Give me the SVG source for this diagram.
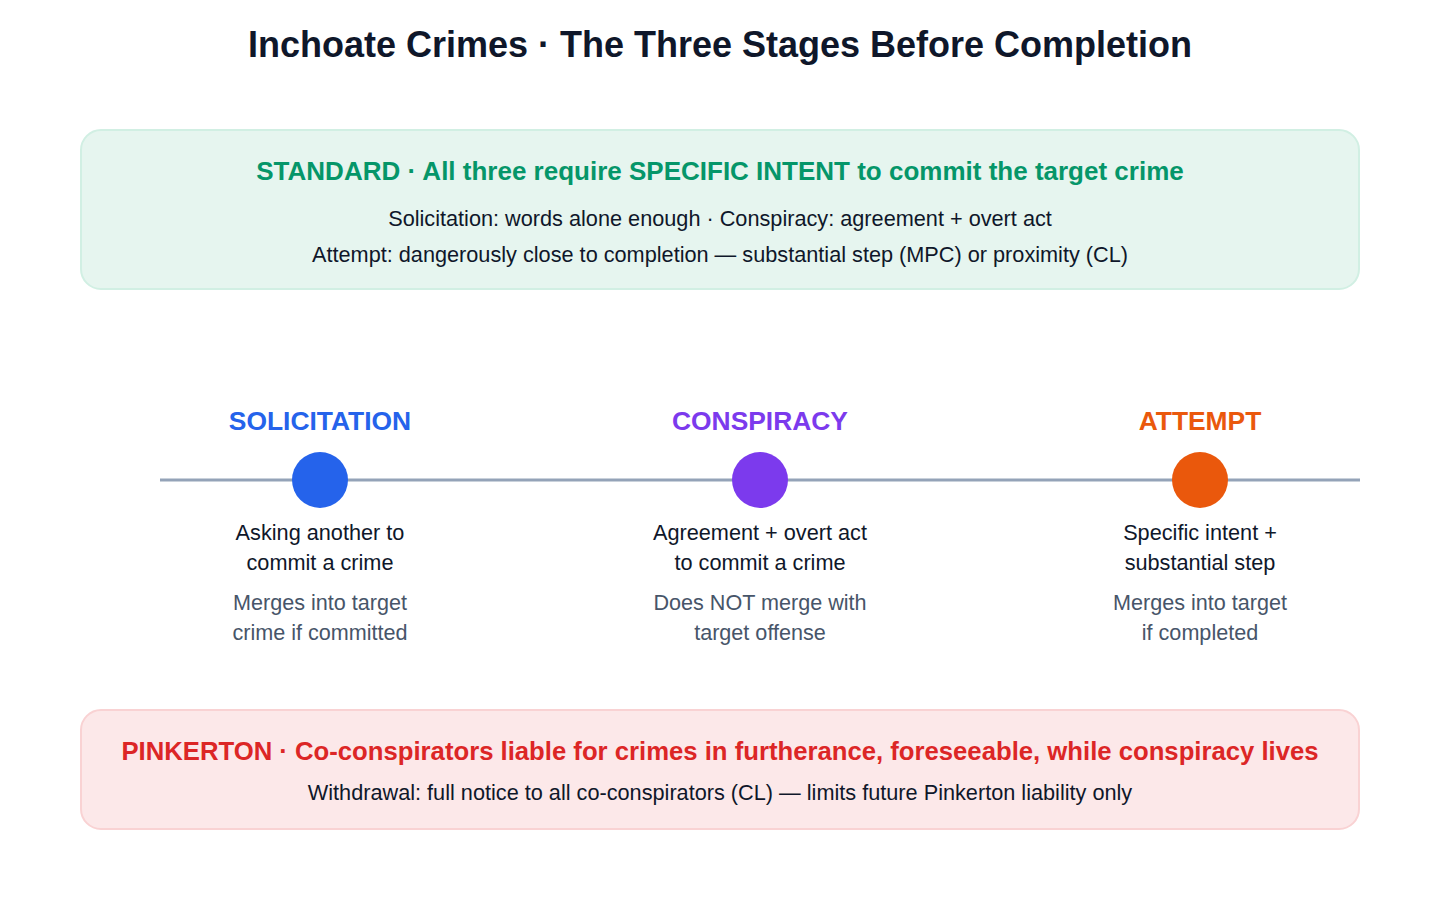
<svg xmlns="http://www.w3.org/2000/svg" width="1440" height="900" viewBox="0 0 1440 900">
<style>
text{font-family:"Liberation Sans",Arial,sans-serif;text-anchor:middle}
.title{font-size:36px;font-weight:bold;fill:#0f172a}
.h{font-size:26px;font-weight:bold}
.b{font-size:21.7px;fill:#0f172a}
.g{font-size:21.6px;fill:#475569}
.lab{font-size:26.4px;font-weight:bold}
</style>
<rect width="1440" height="900" fill="#ffffff"/>
<text class="title" x="720" y="57">Inchoate Crimes · The Three Stages Before Completion</text>
<g id="standard">
<rect x="81" y="130" width="1278" height="159" rx="20" fill="#e6f5ef" stroke="#d1efe3" stroke-width="2"/>
<text class="h" x="720" y="180" fill="#059669">STANDARD · All three require SPECIFIC INTENT to commit the target crime</text>
<text class="b" x="720" y="226">Solicitation: words alone enough · Conspiracy: agreement + overt act</text>
<text class="b" x="720" y="262">Attempt: dangerously close to completion — substantial step (MPC) or proximity (CL)</text>
</g>
<g id="connectors">
<line x1="160" y1="480" x2="1360" y2="480" stroke="#94a3b8" stroke-width="3"/>
</g>
<g id="solicitation">
<text class="lab" x="320" y="430" fill="#2563eb">SOLICITATION</text>
<circle cx="320" cy="480" r="28" fill="#2563eb"/>
<text class="b" x="320" y="540">Asking another to</text>
<text class="b" x="320" y="570">commit a crime</text>
<text class="g" x="320" y="610">Merges into target</text>
<text class="g" x="320" y="640">crime if committed</text>
</g>
<g id="conspiracy">
<text class="lab" x="760" y="430" fill="#7c3aed">CONSPIRACY</text>
<circle cx="760" cy="480" r="28" fill="#7c3aed"/>
<text class="b" x="760" y="540">Agreement + overt act</text>
<text class="b" x="760" y="570">to commit a crime</text>
<text class="g" x="760" y="610">Does NOT merge with</text>
<text class="g" x="760" y="640">target offense</text>
</g>
<g id="attempt">
<text class="lab" x="1200" y="430" fill="#ea580c">ATTEMPT</text>
<circle cx="1200" cy="480" r="28" fill="#ea580c"/>
<text class="b" x="1200" y="540">Specific intent +</text>
<text class="b" x="1200" y="570">substantial step</text>
<text class="g" x="1200" y="610">Merges into target</text>
<text class="g" x="1200" y="640">if completed</text>
</g>
<g id="pinkerton">
<rect x="81" y="710" width="1278" height="119" rx="20" fill="#fce8e9" stroke="#f9d2d3" stroke-width="2"/>
<text class="h" x="720" y="760" fill="#dc2626" style="font-size:25.7px">PINKERTON · Co-conspirators liable for crimes in furtherance, foreseeable, while conspiracy lives</text>
<text class="b" x="720" y="800">Withdrawal: full notice to all co-conspirators (CL) — limits future Pinkerton liability only</text>
</g>
</svg>
